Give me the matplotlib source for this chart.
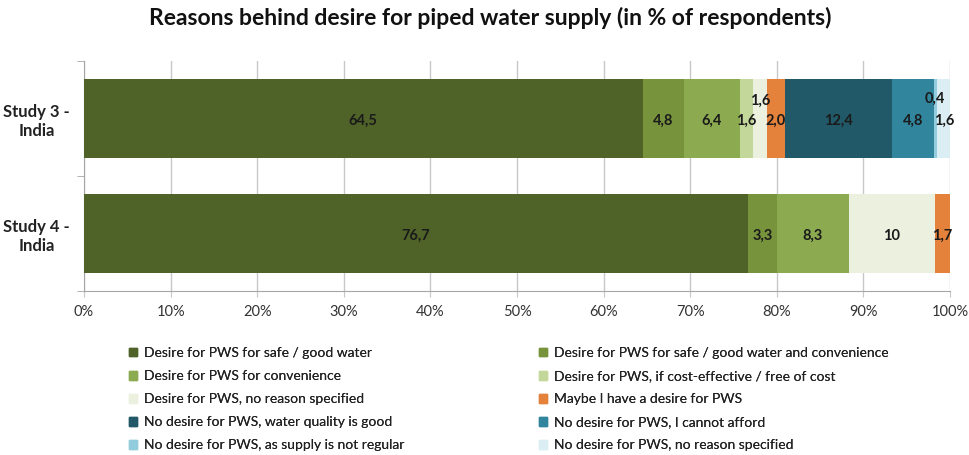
import matplotlib
matplotlib.use("Agg")
import matplotlib.pyplot as plt
from matplotlib.patches import Patch

plt.rcParams['font.family'] = ['Lato', 'DejaVu Sans']

studies = ["Study 3 -\nIndia", "Study 4 -\nIndia"]
series_names = [
    "Desire for PWS for safe / good water",
    "Desire for PWS for safe / good water and convenience",
    "Desire for PWS for convenience",
    "Desire for PWS, if cost-effective / free of cost",
    "Desire for PWS, no reason specified",
    "Maybe I have a desire for PWS",
    "No desire for PWS, water quality is good",
    "No desire for PWS, I cannot afford",
    "No desire for PWS, as supply is not regular",
    "No desire for PWS, no reason specified",
]
study3 = [64.5, 4.8, 6.4, 1.6, 1.6, 2.0, 12.4, 4.8, 0.4, 1.6]
study4 = [76.7, 3.3, 8.3, 0.0, 10.0, 1.7, 0.0, 0.0, 0.0, 0.0]
labels3 = ["64,5", "4,8", "6,4", "1,6", "1,6", "2,0", "12,4", "4,8", "0,4", "1,6"]
labels4 = ["76,7", "3,3", "8,3", "", "10", "1,7", "", "", "", ""]
x_ticks = [0, 10, 20, 30, 40, 50, 60, 70, 80, 90, 100]

colors = ["#4F6228", "#77933C", "#8CAB50", "#C4D79B", "#EBF1DE",
          "#E4813A", "#215968", "#31859C", "#93CDDD", "#DBEEF4"]

fig = plt.figure(figsize=(9.7, 4.55), dpi=100)
ax = fig.add_axes([84/970, 1-291/455, 866/970, 230/455])

data = [study3, study4]
labs = [labels3, labels4]
# label y offsets (in data units) for crowded segments of Study 3
offsets = {(0, 4): -0.15, (0, 8): -0.17}
for i, (vals, lbls) in enumerate(zip(data, labs)):
    left = 0
    for j, v in enumerate(vals):
        if v > 0:
            ax.barh(i, v, left=left, height=0.69, color=colors[j], zorder=3)
            if lbls[j]:
                dy = offsets.get((i, j), 0.02)
                ax.text(left + v/2, i + dy, lbls[j], ha='center', va='center',
                        fontsize=10.5, fontweight='bold', color='#1a1a1a', zorder=4)
        left += v

ax.set_xlim(0, 100)
ax.set_ylim(1.5, -0.5)
ax.set_xticks(x_ticks)
ax.set_xticklabels([f"{t}%" for t in x_ticks], fontsize=10.5, color='#333333')
ax.xaxis.grid(True, color='#C8C8C8', linewidth=1, zorder=0)
ax.set_yticks([0, 1])
ax.set_yticklabels(studies, fontsize=12, fontweight='bold', color='#222222',
                   multialignment='center')
ax.set_yticks([-0.5, 0.5, 1.5], minor=True)
ax.tick_params(axis='y', which='major', length=0, pad=10)
ax.tick_params(axis='y', which='minor', length=5, color='#A6A6A6')
ax.tick_params(axis='x', length=4, color='#C8C8C8', pad=6)
for s in ['top', 'right']:
    ax.spines[s].set_visible(False)
ax.spines['left'].set_color('#A6A6A6')
ax.spines['bottom'].set_color('#A6A6A6')

fig.suptitle("Reasons behind desire for piped water supply (in % of respondents)",
             x=490/970, y=1-18/455, va='center', fontsize=16.5, fontweight='bold', color='#111111')

handles = [Patch(color=c) for c in colors]
for col, xpos in enumerate([122/970, 532/970]):
    idx = list(range(col, 10, 2))
    leg = fig.legend([handles[k] for k in idx], [series_names[k] for k in idx],
                     loc='upper left', bbox_to_anchor=(xpos, 1-340/455), frameon=False,
                     fontsize=10, handlelength=0.6, handleheight=0.6, handletextpad=0.5,
                     labelspacing=0.8, borderpad=0, labelcolor='#222222')
    fig.add_artist(leg)

fig.savefig("out.png", dpi=100)
